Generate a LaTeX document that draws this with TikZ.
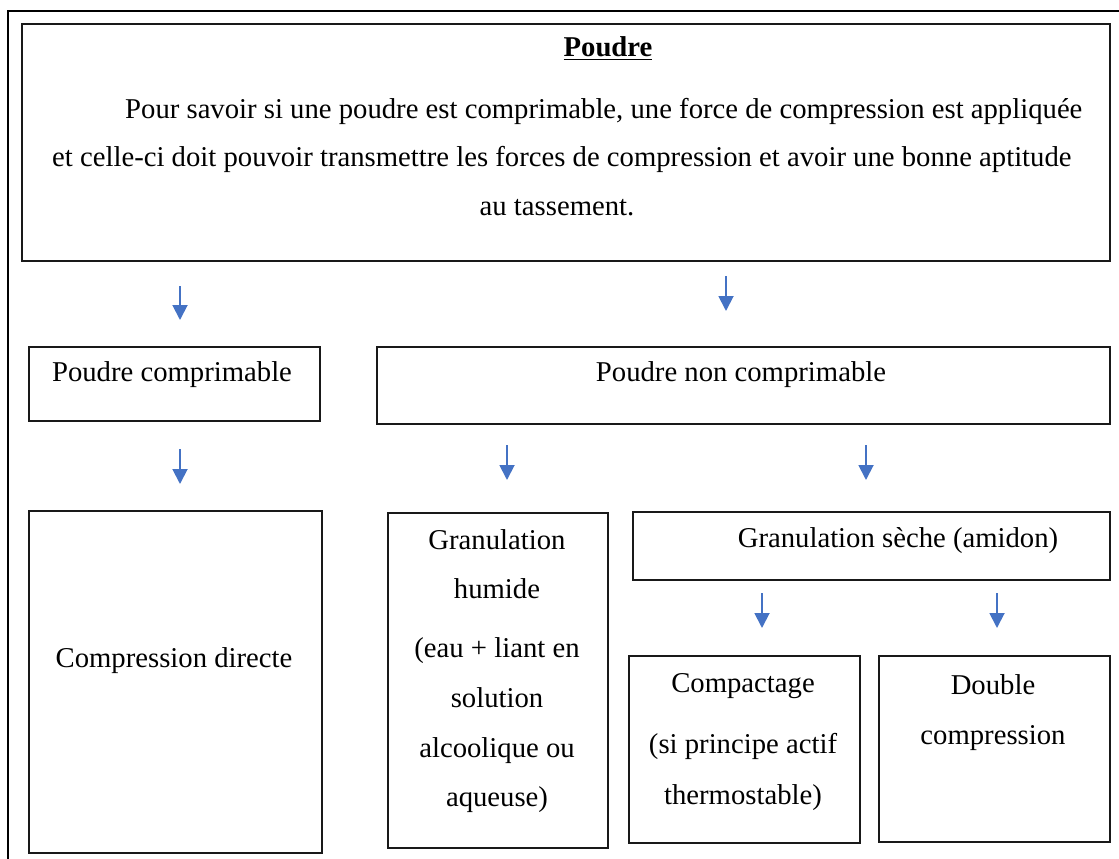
\documentclass[tikz,border=0pt]{standalone}
\usepackage{fontspec}
\setmainfont{Liberation Serif}
\usetikzlibrary{arrows.meta}
\definecolor{arrowblue}{HTML}{4472C4}
\begin{document}
\begin{tikzpicture}[x=1pt,y=-1pt,
  box/.style={draw=black!90,line width=1.8pt,inner sep=0pt},
  txt/.style={font=\fontsize{28.7}{34}\selectfont,inner sep=0pt,anchor=base,text=black},
  flow/.style={draw=arrowblue,line width=1.9pt,-{Triangle[width=15pt,length=15pt]}}]
\useasboundingbox (0,0) rectangle (1119,859);
% outer frame
\draw[line width=2.2pt] (8,859) -- (8,11) -- (1119,11);
% boxes
\node[box,minimum width=1088pt,minimum height=237pt,anchor=north west] (top) at (21,23) {};
\node[box,minimum width=291pt,minimum height=74pt,anchor=north west] (pc) at (28,346) {};
\node[box,minimum width=733pt,minimum height=77pt,anchor=north west] (pnc) at (376,346) {};
\node[box,minimum width=293pt,minimum height=342pt,anchor=north west] (cd) at (28,510) {};
\node[box,minimum width=220pt,minimum height=335pt,anchor=north west] (gh) at (387,512) {};
\node[box,minimum width=477pt,minimum height=68pt,anchor=north west] (gs) at (632,511) {};
\node[box,minimum width=231pt,minimum height=187pt,anchor=north west] (cp) at (628,655) {};
\node[box,minimum width=231pt,minimum height=186pt,anchor=north west] (dc) at (878,655) {};
% texts
\node[txt,font=\fontsize{28.7}{34}\selectfont\bfseries] (title) at (608,57) {\underline{Poudre}};
\node[txt,anchor=base west] (l1) at (125,118) {Pour savoir si une poudre est comprimable, une force de compression est appliquée};
\node[txt,anchor=base west] (l2) at (52,166) {et celle-ci doit pouvoir transmettre les forces de compression et avoir une bonne aptitude};
\node[txt] (l3) at (557,215) {au tassement.};
\node[txt] (tpc) at (172,381) {Poudre comprimable};
\node[txt] (tpnc) at (741,381) {Poudre non comprimable};
\node[txt] (tcd) at (174,667) {Compression directe};
\node[txt] (tgh1) at (497,549) {Granulation};
\node[txt] (tgh2) at (497,598) {humide};
\node[txt] (tgh3) at (497,657) {(eau + liant en};
\node[txt] (tgh4) at (497,707) {solution};
\node[txt] (tgh5) at (497,757) {alcoolique ou};
\node[txt] (tgh6) at (497,806) {aqueuse)};
\node[txt] (tgs) at (898,547) {Granulation sèche (amidon)};
\node[txt] (tcp1) at (743,692) {Compactage};
\node[txt] (tcp2) at (743,753) {(si principe actif};
\node[txt] (tcp3) at (743,804) {thermostable)};
\node[txt] (tdc1) at (993,694) {Double};
\node[txt] (tdc2) at (993,744) {compression};
% arrow end points
\coordinate (a1s) at (180,286); \coordinate (a1e) at (180,320);
\coordinate (a2s) at (726,276); \coordinate (a2e) at (726,311);
\coordinate (a3s) at (180,449); \coordinate (a3e) at (180,484);
\coordinate (a4s) at (507,445); \coordinate (a4e) at (507,480);
\coordinate (a5s) at (866,445); \coordinate (a5e) at (866,480);
\coordinate (a6s) at (762,593); \coordinate (a6e) at (762,628);
\coordinate (a7s) at (997,593); \coordinate (a7e) at (997,628);
\draw[flow] (a1s) -- (a1e);
\draw[flow] (a2s) -- (a2e);
\draw[flow] (a3s) -- (a3e);
\draw[flow] (a4s) -- (a4e);
\draw[flow] (a5s) -- (a5e);
\draw[flow] (a6s) -- (a6e);
\draw[flow] (a7s) -- (a7e);
\end{tikzpicture}
\end{document}
